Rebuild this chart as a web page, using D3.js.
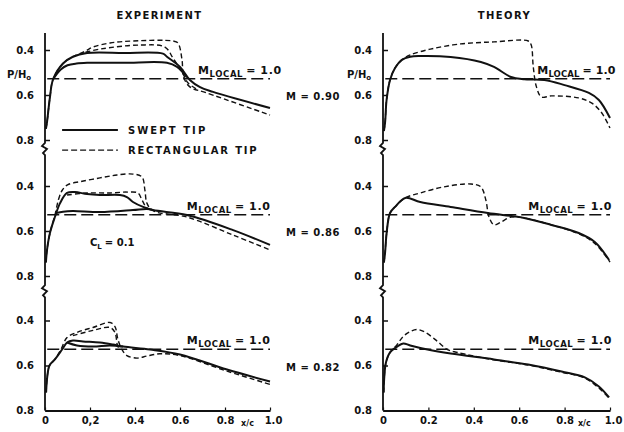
<!DOCTYPE html>
<html><head><meta charset="utf-8">
<script src="https://cdn.jsdelivr.net/npm/d3@7"></script>
<style>
body{margin:0;background:#fff;}
text{font-family:"DejaVu Sans",sans-serif;font-weight:bold;fill:#111;}
</style></head>
<body><svg id="c" width="624" height="432"></svg>
<script>
// ---- data ----
const xTickValues = [0, 0.2, 0.4, 0.6, 0.8, 1.0];
const xTickLabelsLeft = ["0", "0,2", "0.4", "0.6", "0.8", "1.0"];
const xTickLabelsRight = ["0", "0.2", "0.4", "0.6", "0.8", "1.0"];
const yTickValues = [0.4, 0.6, 0.8];
const machNumbers = ["0.90", "0.86", "0.82"];
const mLocalP = 0.528;
const columnTitles = ["EXPERIMENT", "THEORY"];

// Experiment, M = 0.90
const expM90SweptA = [[0.004,0.75],[0.009,0.72],[0.022,0.61],[0.036,0.53],[0.08,0.46],[0.124,0.43],[0.187,0.413],[0.35,0.413],[0.524,0.416],[0.542,0.43],[0.6,0.475],[0.644,0.533],[0.689,0.565],[0.747,0.586],[1.0,0.658]];
const expM90SweptB = [[0.036,0.53],[0.07,0.487],[0.1,0.468],[0.14,0.46],[0.187,0.457],[0.35,0.457],[0.542,0.457],[0.587,0.475],[0.631,0.522]];
const expM90RectC = [[0.004,0.75],[0.009,0.72],[0.022,0.61],[0.036,0.53],[0.08,0.46],[0.124,0.43],[0.18,0.405],[0.213,0.387],[0.289,0.369],[0.391,0.36],[0.569,0.36],[0.591,0.369],[0.609,0.444],[0.616,0.52],[0.644,0.564],[0.72,0.591],[1.0,0.689]];
const expM90RectD = [[0.18,0.41],[0.25,0.395],[0.422,0.378],[0.533,0.387],[0.569,0.436],[0.609,0.497],[0.636,0.547],[0.68,0.577]];

// Theory, M = 0.90
const thM90Swept = [[0.004,0.76],[0.009,0.724],[0.016,0.62],[0.031,0.533],[0.053,0.48],[0.083,0.444],[0.12,0.43],[0.164,0.427],[0.298,0.431],[0.431,0.453],[0.489,0.475],[0.564,0.52],[0.622,0.53],[0.711,0.533],[0.8,0.556],[0.907,0.591],[0.951,0.622],[1.0,0.702]];
const thM90Rect = [[0.004,0.76],[0.009,0.724],[0.016,0.62],[0.031,0.533],[0.053,0.48],[0.083,0.444],[0.12,0.422],[0.209,0.396],[0.342,0.373],[0.489,0.364],[0.64,0.36],[0.653,0.378],[0.662,0.475],[0.676,0.564],[0.698,0.609],[0.742,0.604],[0.862,0.613],[0.92,0.636],[0.964,0.68],[1.0,0.747]];

// Experiment, M = 0.86
const expM86SweptA = [[0.004,0.74],[0.009,0.684],[0.022,0.609],[0.044,0.538],[0.067,0.476],[0.098,0.431],[0.133,0.427],[0.187,0.436],[0.244,0.44],[0.333,0.44],[0.364,0.449],[0.391,0.471],[0.436,0.493],[0.48,0.507],[0.631,0.529],[0.836,0.596],[1.0,0.662]];
const expM86SweptB = [[0.05,0.52],[0.08,0.514],[0.124,0.511],[0.244,0.516],[0.391,0.507],[0.453,0.502],[0.48,0.507]];
const expM86RectC = [[0.004,0.74],[0.009,0.684],[0.022,0.609],[0.044,0.53],[0.06,0.46],[0.076,0.42],[0.1,0.395],[0.16,0.38],[0.244,0.364],[0.32,0.351],[0.391,0.347],[0.431,0.36],[0.444,0.418],[0.453,0.476],[0.48,0.51],[0.631,0.538],[0.836,0.618],[1.0,0.684]];
const expM86RectD = [[0.098,0.44],[0.187,0.431],[0.289,0.431],[0.364,0.427],[0.413,0.431],[0.431,0.462],[0.453,0.498],[0.48,0.51]];

// Theory, M = 0.86
const thM86Swept = [[0.004,0.74],[0.009,0.698],[0.016,0.609],[0.031,0.52],[0.053,0.493],[0.098,0.453],[0.164,0.471],[0.298,0.493],[0.462,0.52],[0.622,0.542],[0.742,0.573],[0.862,0.609],[0.933,0.649],[0.996,0.729]];
const thM86Rect = [[0.004,0.74],[0.009,0.698],[0.016,0.609],[0.031,0.52],[0.053,0.493],[0.098,0.453],[0.164,0.431],[0.267,0.404],[0.387,0.391],[0.431,0.404],[0.453,0.462],[0.467,0.538],[0.489,0.573],[0.52,0.56],[0.564,0.538],[0.622,0.542],[0.742,0.573],[0.862,0.612],[0.933,0.655],[1.0,0.738]];

// Experiment, M = 0.82
const expM82SweptA = [[0.005,0.72],[0.01,0.65],[0.02,0.6],[0.044,0.573],[0.076,0.529],[0.098,0.498],[0.124,0.489],[0.169,0.493],[0.244,0.498],[0.302,0.507],[0.347,0.516],[0.467,0.529],[0.6,0.551],[0.809,0.618],[1.0,0.671]];
const expM82SweptB = [[0.098,0.498],[0.142,0.511],[0.213,0.516],[0.289,0.511],[0.347,0.516]];
const expM82RectC = [[0.005,0.72],[0.01,0.65],[0.02,0.6],[0.044,0.573],[0.07,0.53],[0.098,0.476],[0.142,0.453],[0.213,0.431],[0.289,0.409],[0.311,0.427],[0.324,0.484],[0.342,0.529],[0.364,0.556],[0.409,0.567],[0.453,0.558],[0.511,0.548],[0.6,0.556],[0.809,0.625],[1.0,0.684]];
const expM82RectD = [[0.124,0.467],[0.213,0.444],[0.289,0.431],[0.311,0.453],[0.324,0.516],[0.34,0.53]];

// Theory, M = 0.82
const thM82Swept = [[0.003,0.72],[0.005,0.662],[0.013,0.587],[0.031,0.542],[0.062,0.516],[0.089,0.502],[0.12,0.511],[0.196,0.529],[0.298,0.547],[0.489,0.573],[0.64,0.596],[0.787,0.627],[0.889,0.653],[0.951,0.693],[0.996,0.742]];
const thM82Rect = [[0.003,0.72],[0.005,0.662],[0.013,0.587],[0.031,0.542],[0.062,0.507],[0.089,0.471],[0.12,0.449],[0.151,0.44],[0.187,0.453],[0.24,0.493],[0.284,0.529],[0.329,0.542],[0.489,0.575],[0.64,0.598],[0.787,0.63],[0.889,0.656],[0.951,0.7],[0.996,0.745]];

// ---- layout ----
const svg = d3.select("#c");
const colX = [[45, 270], [383, 610]];
const rowY04 = [50, 186, 320.5];
const axisTop = 33, axisBottom = 410.5;

const xScales = colX.map(r => d3.scaleLinear().domain([0, 1]).range(r));
const yScales = rowY04.map(y => d3.scaleLinear().domain([0.4, 0.8]).range([y, y + 90]));

const panels = [
  {c:0, r:0, solid:[expM90SweptA, expM90SweptB], dashed:[expM90RectC, expM90RectD]},
  {c:1, r:0, solid:[thM90Swept], dashed:[thM90Rect]},
  {c:0, r:1, solid:[expM86SweptA, expM86SweptB], dashed:[expM86RectC, expM86RectD]},
  {c:1, r:1, solid:[thM86Swept], dashed:[thM86Rect]},
  {c:0, r:2, solid:[expM82SweptA, expM82SweptB], dashed:[expM82RectC, expM82RectD]},
  {c:1, r:2, solid:[thM82Swept], dashed:[thM82Rect]},
];

// titles
columnTitles.forEach((t, c) => {
  svg.append("text").attr("x", (xScales[c](0) + xScales[c](1)) / 2 + (c ? 8 : 2)).attr("y", 19)
    .attr("text-anchor", "middle").attr("font-size", 10).attr("letter-spacing", 1.4).text(t);
});

panels.forEach(p => {
  const x = xScales[p.c], y = yScales[p.r];
  const g = svg.append("g");
  const line = d3.line().x(d => x(d[0])).y(d => y(d[1])).curve(d3.curveCatmullRom.alpha(0.5));
  // M local = 1 line
  g.append("line").attr("x1", x(0.01)).attr("x2", x(1.0)).attr("y1", y(mLocalP)).attr("y2", y(mLocalP))
    .attr("stroke", "#111").attr("stroke-width", 1.6).attr("stroke-dasharray", "12,5");
  p.dashed.forEach(d => g.append("path").attr("d", line(d)).attr("fill", "none")
    .attr("stroke", "#111").attr("stroke-width", 1.4).attr("stroke-dasharray", "5,3"));
  p.solid.forEach(d => g.append("path").attr("d", line(d)).attr("fill", "none")
    .attr("stroke", "#111").attr("stroke-width", 2));
  // y axis ticks
  const ax = d3.axisLeft(y).tickValues(yTickValues).tickSizeInner(-5).tickSizeOuter(0).tickPadding(11)
    .tickFormat(d3.format(".1f"));
  const ag = g.append("g").attr("transform", `translate(${x(0)},0)`).call(ax);
  ag.select(".domain").remove();
  ag.selectAll("line").attr("stroke", "#111").attr("stroke-width", 1.5);
  ag.selectAll("text").attr("font-size", 10).attr("font-family", "DejaVu Sans").attr("font-weight", "bold").style("fill", "#111");
  // M_LOCAL label
  const topRight = p.c === 1 && p.r === 0;
  const lx = p.c === 0 ? (p.r === 0 ? x(0.68) : x(0.63)) : (p.r === 0 ? x(0.68) : x(0.64));
  const lt = g.append("text").attr("x", lx).attr("y", y(mLocalP) - 5).attr("font-size", 11)
    .attr("letter-spacing", topRight ? 0.1 : 0.6);
  lt.append("tspan").text("M");
  lt.append("tspan").attr("font-size", 8.5).attr("dy", 3).text("LOCAL");
  lt.append("tspan").attr("dy", -3).attr("dx", 3).text("= 1.0");
  // P/Ho label on top row
  if (p.r === 0) {
    const pt = g.append("text").attr("x", x(0) - (p.c === 0 ? 38 : 36)).attr("y", y(mLocalP) - 1).attr("font-size", 10);
    pt.append("tspan").text("P/H");
    pt.append("tspan").attr("font-size", 7).attr("dy", 2).text("o");
  }
});

// vertical axes with break marks
colX.forEach((r, c) => {
  const x0 = xScales[c](0);
  const b1 = (yScales[0](0.8) + yScales[1](0.4)) / 2 - 20;
  const b2 = (yScales[1](0.8) + yScales[2](0.4)) / 2 - 13;
  const path = d3.path();
  path.moveTo(x0, axisTop);
  [b1, b2].forEach(b => {
    path.lineTo(x0, b);
    path.lineTo(x0 - 3, b + 3);
    path.lineTo(x0 + 2, b + 6);
    path.lineTo(x0 - 2, b + 10);
    path.lineTo(x0, b + 12);
  });
  path.lineTo(x0, axisBottom);
  svg.append("path").attr("d", path.toString()).attr("fill", "none").attr("stroke", "#111").attr("stroke-width", 1.8);

  // bottom axis
  const labels = c === 0 ? xTickLabelsLeft : xTickLabelsRight;
  const bx = d3.axisBottom(xScales[c]).tickValues(xTickValues).tickSizeInner(-3).tickSizeOuter(0).tickPadding(6)
    .tickFormat((d, i) => labels[i]);
  const bg = svg.append("g").attr("transform", `translate(0,${axisBottom})`).call(bx);
  bg.select(".domain").attr("stroke", "#111").attr("stroke-width", 1.8);
  bg.selectAll("line").attr("stroke", "#111").attr("stroke-width", 1.2);
  bg.selectAll("text").attr("font-size", 10).attr("font-family", "DejaVu Sans").attr("font-weight", "bold").style("fill", "#111");
  bg.selectAll(".tick").filter(d => d === 1).select("text").attr("dx", 3);
  svg.append("text").attr("x", xScales[c](0.9) - (c ? 3 : 0)).attr("y", axisBottom + 15)
    .attr("text-anchor", "middle").attr("font-size", 8).text("x/c");
});

// Mach labels between columns
machNumbers.forEach((m, r) => {
  svg.append("text").attr("x", 286).attr("y", yScales[r](0.6) + 5).attr("font-size", 10)
    .attr("letter-spacing", 0.5).text("M = " + m);
});

// legend
const lgX0 = xScales[0](0.076), lgX1 = xScales[0](0.324);
const lgY = [yScales[0](0.755), yScales[0](0.845)];
svg.append("line").attr("x1", lgX0).attr("x2", lgX1).attr("y1", lgY[0]).attr("y2", lgY[0]).attr("stroke", "#111").attr("stroke-width", 2);
svg.append("line").attr("x1", lgX0).attr("x2", lgX1).attr("y1", lgY[1]).attr("y2", lgY[1]).attr("stroke", "#111").attr("stroke-width", 1.4).attr("stroke-dasharray", "6,3");
svg.append("text").attr("x", lgX1 + 10).attr("y", lgY[0] + 4).attr("font-size", 10).attr("letter-spacing", 2.1).text("SWEPT TIP");
svg.append("text").attr("x", lgX1 + 10).attr("y", lgY[1] + 4).attr("font-size", 10).attr("letter-spacing", 1.8).text("RECTANGULAR TIP");

// C_L label
const cl = svg.append("text").attr("x", xScales[0](0.2)).attr("y", yScales[1](0.665)).attr("font-size", 10);
cl.append("tspan").text("C");
cl.append("tspan").attr("font-size", 7).attr("dy", 3).text("L");
cl.append("tspan").attr("dy", -3).attr("dx", 3).text("= 0.1");
</script></body></html>
